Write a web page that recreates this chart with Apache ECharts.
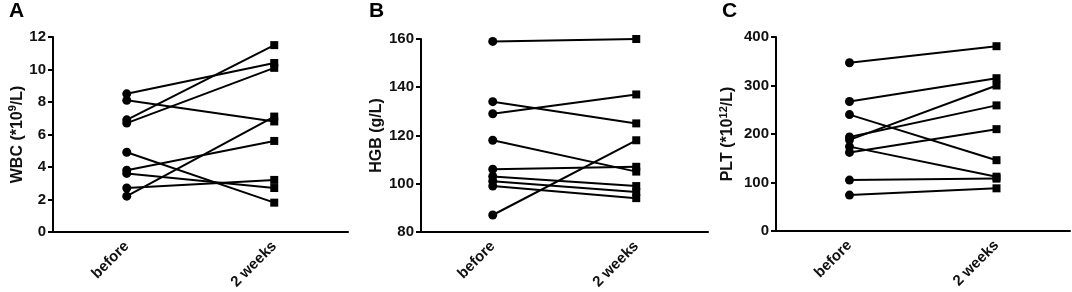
<!DOCTYPE html>
<html>
<head>
<meta charset="utf-8">
<script src="https://cdn.jsdelivr.net/npm/echarts/dist/echarts.min.js"></script>
<style>
    html, body {margin: 0; padding: 0; background: #fff;}
    #chart {width: 1072px; height: 292px;}
</style>
</head>
<body>
<div id="chart"></div>
<script>
// paired values, one entry per patient (same index = same line)
var categories = ['before', '2 weeks'];

var wbcBefore = [8.5, 8.1, 6.9, 6.7, 4.9, 3.8, 3.6, 2.7, 2.2];
var wbcAfter = [10.4, 6.8, 11.5, 10.1, 1.8, 5.6, 2.7, 3.2, 7.1];

var hgbBefore = [159, 134, 129, 118, 106, 103, 101, 99, 87];
var hgbAfter = [160, 125, 137, 105, 107, 99, 96.5, 94, 118];

var pltBefore = [347, 267, 240, 194, 188, 174, 162, 105, 74];
var pltAfter = [381, 315, 146, 259, 300, 112, 210, 108, 88];

var yMin = [0, 80, 0];
var yMax = [12, 160, 400];
var yStep = [2, 20, 100];
var yNames = ['WBC (*10{sup|9}/L)', 'HGB (g/L)', 'PLT (*10{sup|12}/L)'];
var panelLetters = ['A', 'B', 'C'];

var font = '"Liberation Sans", Arial, sans-serif';

function initPairChart() {
    var myChart = echarts.init(document.getElementById('chart'));

    var grids = [
        {left: 53, right: 724, top: 37, bottom: 59},
        {left: 421, right: 364, top: 39, bottom: 60},
        {left: 776, right: 2, top: 37, bottom: 61}
    ];
    var nameGaps = [25, 36, 39];
    var letterX = [9, 369, 722];

    var xAxes = [], yAxes = [], series = [], graphics = [];
    var panels = [[wbcBefore, wbcAfter], [hgbBefore, hgbAfter], [pltBefore, pltAfter]];

    for (var k = 0; k < 3; k++) {
        xAxes.push({
            type: 'category',
            gridIndex: k,
            data: categories,
            boundaryGap: true,
            axisLine: {lineStyle: {color: '#000', width: 2}},
            axisTick: {alignWithLabel: true, length: 5, lineStyle: {color: '#000', width: 2}},
            axisLabel: {
                rotate: 45,
                margin: 12,
                color: '#111',
                fontSize: 15,
                fontWeight: 'bold',
                fontFamily: font
            },
            splitLine: {show: false}
        });
        yAxes.push({
            type: 'value',
            gridIndex: k,
            min: yMin[k],
            max: yMax[k],
            interval: yStep[k],
            name: yNames[k],
            nameLocation: 'middle',
            nameGap: nameGaps[k],
            nameTextStyle: {
                color: '#111',
                fontSize: 16,
                fontWeight: 'bold',
                fontFamily: font,
                rich: {
                    // raise the exponent: extra bottom padding pushes the glyph up
                    sup: {fontSize: 11, fontWeight: 'bold', fontFamily: font, color: '#111', padding: [0, 0, 8, 0]}
                }
            },
            axisLine: {show: true, lineStyle: {color: '#000', width: 2}},
            axisTick: {show: true, length: 5, lineStyle: {color: '#000', width: 2}},
            axisLabel: {
                margin: 7,
                color: '#111',
                fontSize: 15,
                fontWeight: 'bold',
                fontFamily: font
            },
            splitLine: {show: false}
        });

        var before = panels[k][0], after = panels[k][1];
        for (var i = 0; i < before.length; i++) {
            series.push({
                type: 'line',
                xAxisIndex: k,
                yAxisIndex: k,
                symbolSize: 9,
                lineStyle: {color: '#000', width: 2},
                itemStyle: {color: '#000'},
                data: [
                    {value: before[i], symbol: 'circle'},
                    {value: after[i], symbol: 'rect', symbolSize: 8}
                ]
            });
        }

        graphics.push({
            type: 'text',
            left: letterX[k],
            top: 1,
            style: {text: panelLetters[k], font: 'bold 21px ' + font, fill: '#000'}
        });
    }

    var option = {
        backgroundColor: '#fff',
        animation: false,
        grid: grids,
        xAxis: xAxes,
        yAxis: yAxes,
        series: series,
        graphic: graphics
    };

    myChart.setOption(option);
}

initPairChart();
</script>
</body>
</html>
